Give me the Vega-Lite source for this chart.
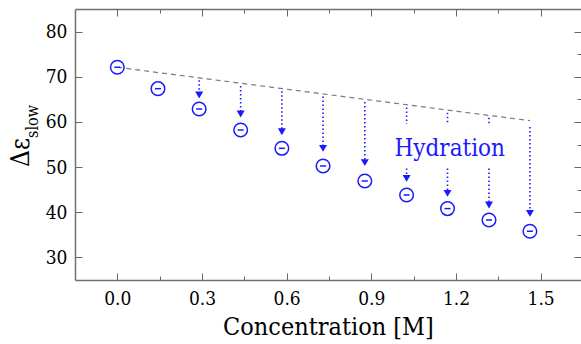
{
  "$schema": "https://vega.github.io/schema/vega-lite/v6.json",
  "width": 506,
  "height": 271,
  "autosize": {"type": "none"},
  "padding": {"left": 75, "top": 9, "right": 0, "bottom": 64},
  "background": "white",
  "config": {"view": {"stroke": null}, "font": "DejaVu Serif Condensed"},
  "datasets": {
    "pts": [
      {"x": 0, "y": 72.1}, {"x": 0.144, "y": 67.36}, {"x": 0.29, "y": 62.86},
      {"x": 0.437, "y": 58.21}, {"x": 0.583, "y": 54.16}, {"x": 0.729, "y": 50.24},
      {"x": 0.877, "y": 46.92}, {"x": 1.025, "y": 43.82}, {"x": 1.17, "y": 40.81},
      {"x": 1.317, "y": 38.29}, {"x": 1.462, "y": 35.79}
    ],
    "dash": [{"x": 0, "y": 72.1}, {"x": 1.462, "y": 60.27}],
    "arrows": [
      {"x": 0.29, "y": 69.2, "y2": 65.96},
      {"x": 0.437, "y": 67.97, "y2": 61.75},
      {"x": 0.583, "y": 66.79, "y2": 57.84},
      {"x": 0.729, "y": 65.61, "y2": 54.14},
      {"x": 0.877, "y": 64.4, "y2": 50.98},
      {"x": 1.025, "y": 63.2, "y2": 59.54},
      {"x": 1.025, "y": 49.69, "y2": 47.5},
      {"x": 1.17, "y": 62.05, "y2": 59.54},
      {"x": 1.17, "y": 49.69, "y2": 44.18},
      {"x": 1.317, "y": 60.9, "y2": 59.54},
      {"x": 1.317, "y": 49.69, "y2": 41.61},
      {"x": 1.462, "y": 58.9, "y2": 39.75}
    ],
    "heads": [
      {"x": 0.29, "y": 65.96}, {"x": 0.437, "y": 61.75}, {"x": 0.583, "y": 57.84},
      {"x": 0.729, "y": 54.14}, {"x": 0.877, "y": 50.98}, {"x": 1.025, "y": 47.5},
      {"x": 1.17, "y": 44.18}, {"x": 1.317, "y": 41.61}, {"x": 1.462, "y": 39.75}
    ],
    "label": [{"x": 1.178, "y": 52.46, "t": "Hydration"}],
    "sub": [{"x": -0.15, "y": 60.1, "t": "slow"}]
  },
  "layer": [
    {
      "layer": [
        {
          "data": {"name": "dash"},
          "mark": {"type": "line", "color": "#7a7a7a", "strokeDash": [5, 4], "strokeWidth": 1.2},
          "encoding": {
            "x": {
              "field": "x", "type": "quantitative",
              "scale": {"domain": [-0.15, 1.643], "nice": false, "zero": false},
              "axis": {
                "orient": "bottom",
                "title": "Concentration [M]",
                "values": [0, 0.15, 0.3, 0.45, 0.6, 0.75, 0.9, 1.05, 1.2, 1.35, 1.5],
                "labelExpr": "abs(datum.value/0.3 - round(datum.value/0.3)) < 0.01 ? format(datum.value, '.1f') : ''",
                "tickSize": {"condition": {"test": "abs(datum.value/0.3 - round(datum.value/0.3)) < 0.01", "value": -7}, "value": -4},
                "tickColor": "#666666",
                "tickWidth": 1,
                "domainColor": "#707070",
                "domainWidth": 1.5,
                "labelFont": "DejaVu Serif Condensed",
                "labelFontSize": 19,
                "labelColor": "#000000",
                "labelBaseline": "alphabetic",
                "labelPadding": 31,
                "labelFlush": false,
                "labelOverlap": false,
                "grid": false,
                "titleFont": "DejaVu Serif Condensed",
                "titleFontSize": 25,
                "titleFontWeight": "normal",
                "titleColor": "#000000",
                "titleBaseline": "alphabetic",
                "titleY": 54
              }
            },
            "y": {
              "field": "y", "type": "quantitative",
              "scale": {"domain": [25, 85], "nice": false, "zero": false},
              "axis": {
                "orient": "left",
                "title": "Δε",
                "values": [30, 35, 40, 45, 50, 55, 60, 65, 70, 75, 80],
                "labelExpr": "datum.value % 10 == 0 ? datum.label : ''",
                "tickSize": {"condition": {"test": "datum.value % 10 == 0", "value": -7}, "value": -4},
                "tickColor": "#666666",
                "tickWidth": 1,
                "domainColor": "#707070",
                "domainWidth": 1.5,
                "labelFont": "DejaVu Serif Condensed",
                "labelFontSize": 19,
                "labelColor": "#000000",
                "labelPadding": 15,
                "labelFlush": false,
                "labelOverlap": false,
                "grid": false,
                "titleFont": "DejaVu Serif Condensed",
                "titleFontSize": 26,
                "titleFontWeight": "normal",
                "titleColor": "#000000",
                "titleAngle": 270,
                "titleAlign": "center",
                "titleBaseline": "alphabetic",
                "titleX": -47,
                "titleY": 143
              }
            }
          }
        },
        {
          "data": {"name": "arrows"},
          "mark": {"type": "rule", "color": "#1a1aff", "strokeDash": [1.5, 2.5], "strokeWidth": 1.6},
          "encoding": {
            "x": {"field": "x", "type": "quantitative"},
            "y": {"field": "y", "type": "quantitative"},
            "y2": {"field": "y2"}
          }
        },
        {
          "data": {"name": "heads"},
          "mark": {"type": "point", "shape": "triangle-down", "filled": true, "color": "#1a1aff", "size": 64, "opacity": 1},
          "encoding": {
            "x": {"field": "x", "type": "quantitative"},
            "y": {"field": "y", "type": "quantitative"}
          }
        },
        {
          "data": {"name": "pts"},
          "mark": {"type": "point", "shape": "circle", "filled": false, "color": "#1a1aff", "size": 185, "strokeWidth": 1.5, "opacity": 1},
          "encoding": {
            "x": {"field": "x", "type": "quantitative"},
            "y": {"field": "y", "type": "quantitative"}
          }
        },
        {
          "data": {"name": "pts"},
          "mark": {"type": "point", "shape": "stroke", "filled": false, "color": "#1a1aff", "size": 36, "strokeWidth": 1.5, "opacity": 1},
          "encoding": {
            "x": {"field": "x", "type": "quantitative"},
            "y": {"field": "y", "type": "quantitative"}
          }
        },
        {
          "data": {"name": "label"},
          "mark": {"type": "text", "font": "DejaVu Serif Condensed", "fontSize": 24, "color": "#1a1aff", "align": "center", "baseline": "alphabetic"},
          "encoding": {
            "x": {"field": "x", "type": "quantitative"},
            "y": {"field": "y", "type": "quantitative"},
            "text": {"field": "t"}
          }
        },
        {
          "data": {"name": "sub"},
          "mark": {"type": "text", "font": "DejaVu Serif Condensed", "fontSize": 16, "color": "#000000", "align": "center", "baseline": "alphabetic", "angle": 270, "dy": -37, "clip": false},
          "encoding": {
            "x": {"field": "x", "type": "quantitative"},
            "y": {"field": "y", "type": "quantitative"},
            "text": {"field": "t"}
          }
        }
      ]
    },
    {
      "data": {"name": "pts"},
      "mark": {"type": "point", "opacity": 0},
      "encoding": {
        "x": {
          "field": "x", "type": "quantitative",
          "axis": {
            "orient": "top",
            "title": null,
            "labels": false,
            "values": [0, 0.15, 0.3, 0.45, 0.6, 0.75, 0.9, 1.05, 1.2, 1.35, 1.5],
            "tickSize": {"condition": {"test": "abs(datum.value/0.3 - round(datum.value/0.3)) < 0.01", "value": -7}, "value": -4},
            "tickColor": "#666666",
            "tickWidth": 1,
            "domainColor": "#707070",
            "domainWidth": 1.5,
            "grid": false
          }
        },
        "y": {
          "field": "y", "type": "quantitative",
          "axis": {
            "orient": "right",
            "title": null,
            "labels": false,
            "domain": false,
            "values": [30, 35, 40, 45, 50, 55, 60, 65, 70, 75, 80],
            "tickSize": {"condition": {"test": "datum.value % 10 == 0", "value": -7}, "value": -4},
            "tickColor": "#666666",
            "tickWidth": 1,
            "grid": false
          }
        }
      }
    }
  ],
  "resolve": {"axis": {"x": "independent", "y": "independent"}}
}
